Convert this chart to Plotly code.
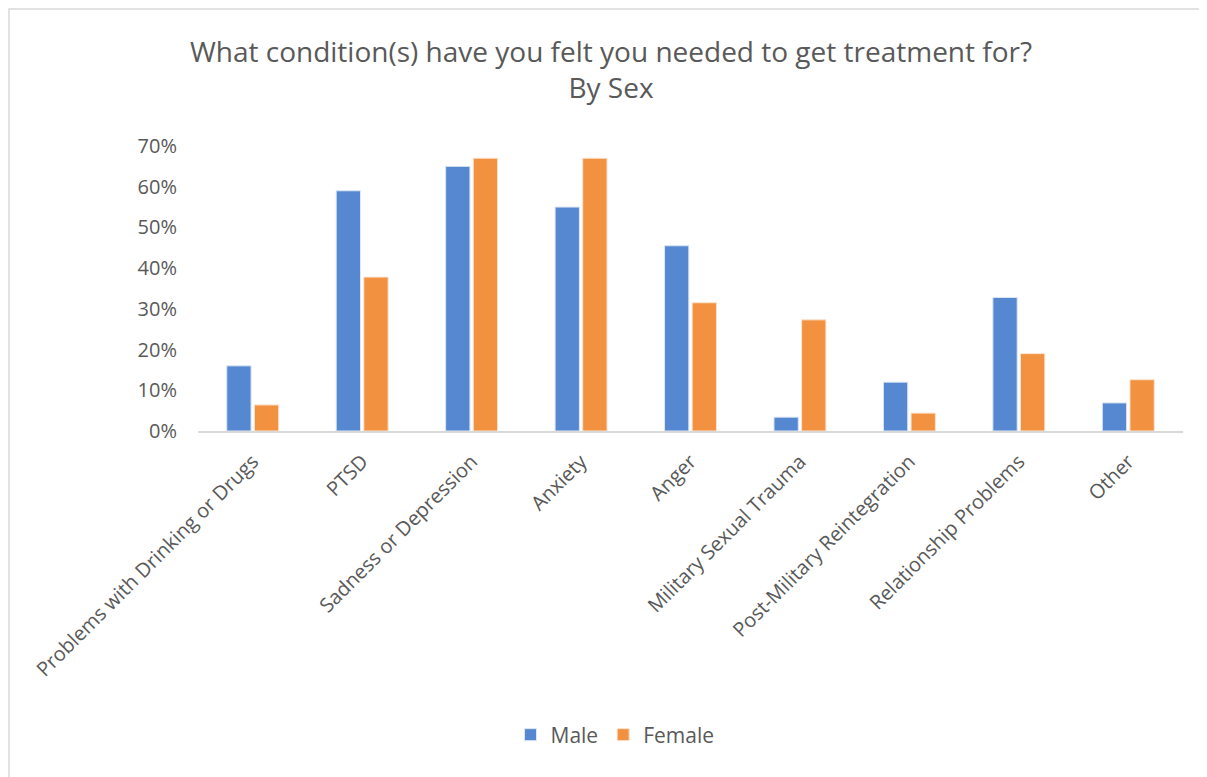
import plotly.graph_objects as go

categories = ["Problems with Drinking or Drugs", "PTSD", "Sadness or Depression", "Anxiety",
              "Anger", "Military Sexual Trauma", "Post-Military Reintegration",
              "Relationship Problems", "Other"]
male = [0.16, 0.59, 0.65, 0.55, 0.455, 0.034, 0.12, 0.328, 0.069]
female = [0.064, 0.378, 0.67, 0.67, 0.315, 0.273, 0.044, 0.19, 0.126]
y_ticks = [0, 0.1, 0.2, 0.3, 0.4, 0.5, 0.6, 0.7]

# page has an 8px body margin; coordinates below are in figure pixels
W, H = 1199, 769
L, R, T, B = 190, 24, 138, 346
pw, ph = W - L - R, H - T - B

def px(x):
    return (x - L) / pw

def py(y):
    return (H - B - y) / ph

FONT = "Open Sans"
GRAY = "#595959"

fig = go.Figure()
fig.add_trace(go.Bar(name="Male", x=categories, y=male,
                     marker=dict(color="#5588D1", line=dict(color="#DCE6F4", width=1))))
fig.add_trace(go.Bar(name="Female", x=categories, y=female,
                     marker=dict(color="#F2913F", line=dict(color="#FBE3CE", width=1))))

fig.update_layout(
    width=W, height=H,
    margin=dict(l=L, r=R, t=T, b=B),
    paper_bgcolor="white", plot_bgcolor="white",
    barmode="group", bargap=0.495, bargroupgap=0.12,
    font=dict(family=FONT, color=GRAY, size=20),
    title=dict(text="What condition(s) have you felt you needed to get treatment for?<br>By Sex",
               x=603 / W, xanchor="center", y=1 - 54 / H, yanchor="top",
               font=dict(family=FONT, size=28, color=GRAY)),
    legend=dict(orientation="h", x=px(607), xanchor="center", y=py(727), yanchor="middle",
                font=dict(family=FONT, size=21, color=GRAY), traceorder="normal"),
    showlegend=True,
)
fig.update_yaxes(range=[0, 0.7], tickvals=y_ticks, tickformat=".0%", showgrid=False,
                 zeroline=False, showline=False, ticks="outside", ticklen=16,
                 tickcolor="rgba(0,0,0,0)", tickfont=dict(size=20, color=GRAY))
fig.update_xaxes(showline=True, linecolor="#D9D9D9", linewidth=2, tickangle=-45,
                 ticks="outside", ticklen=9, tickcolor="rgba(0,0,0,0)",
                 tickfont=dict(size=20, color=GRAY))

fig.add_shape(type="rect", xref="paper", yref="paper",
              x0=px(1), x1=px(W + 20), y0=py(H + 20), y1=py(1),
              line=dict(color="#D9D9D9", width=1.5), fillcolor="rgba(0,0,0,0)", layer="below")

fig.write_html("out.html")
